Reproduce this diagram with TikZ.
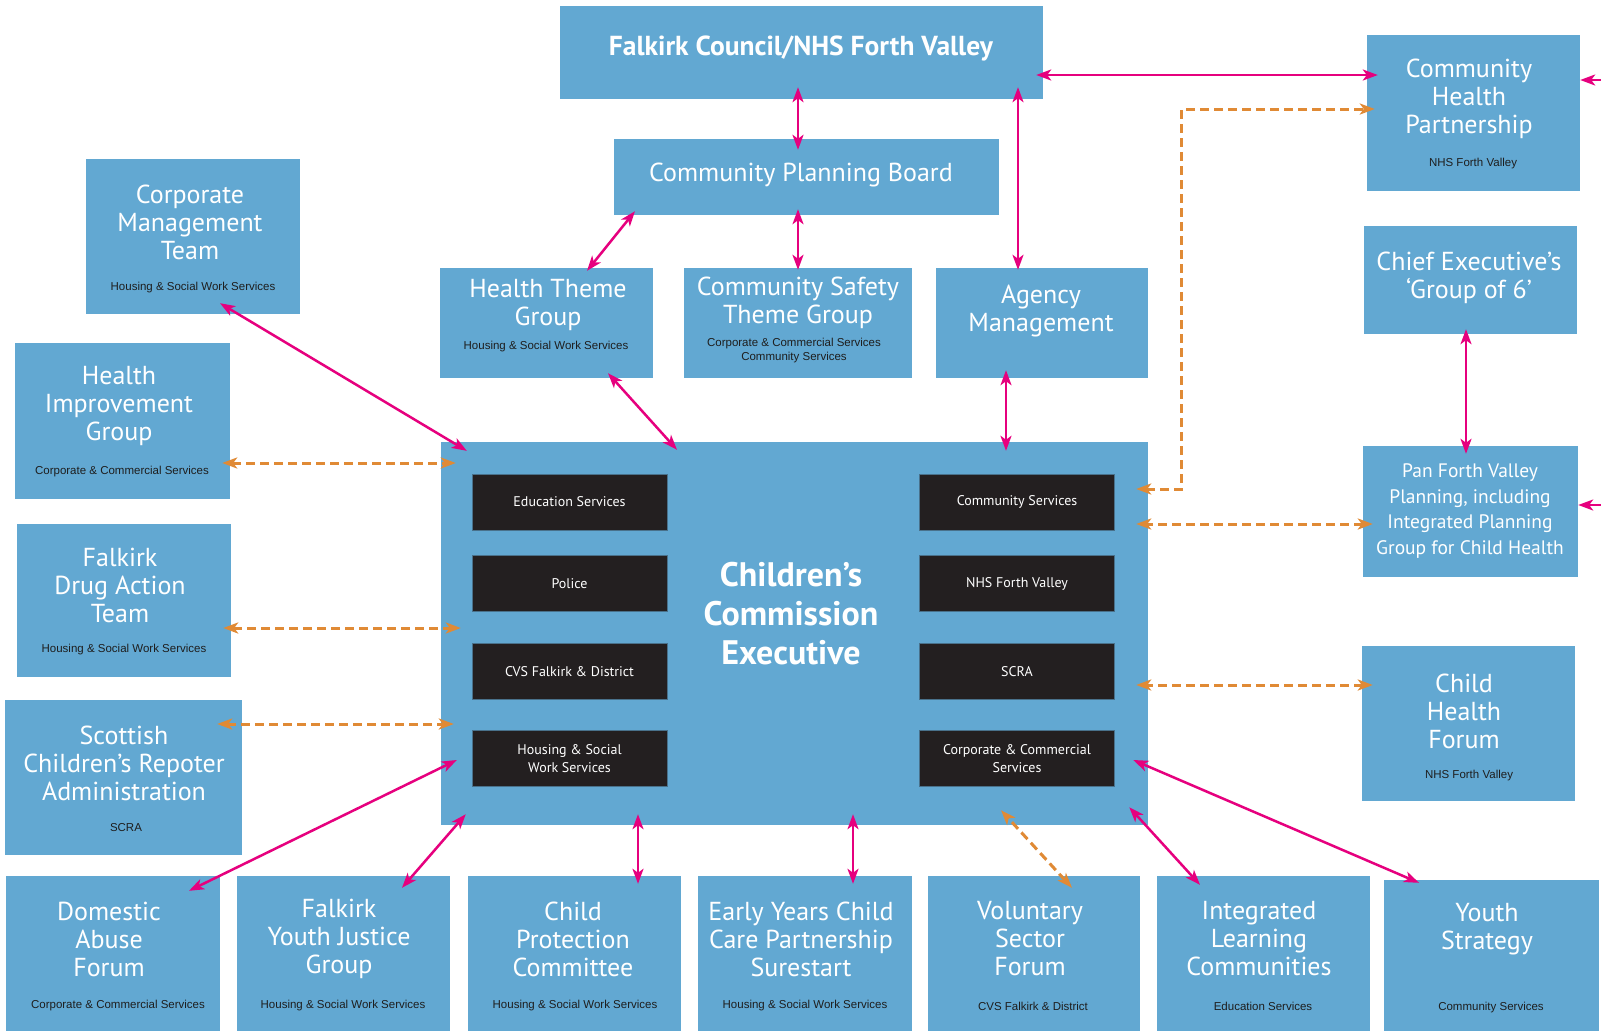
\documentclass[tikz,border=0pt]{standalone}
\usepackage{fontspec}
\setmainfont{PT Sans}
\newfontfamily\subfont{Liberation Sans}
\usetikzlibrary{arrows.meta,calc}
\definecolor{boxblue}{RGB}{98,168,210}
\definecolor{darkbox}{RGB}{35,31,32}
\definecolor{linkpink}{RGB}{230,0,126}
\definecolor{dashorange}{RGB}{224,138,53}
\definecolor{subgray}{RGB}{30,30,30}
\tikzset{
  box/.style={fill=boxblue, inner sep=0pt},
  unitbox/.style={fill=darkbox, draw=boxblue!60!darkbox, line width=0.6pt, minimum width=195pt, minimum height=56pt, inner sep=0pt, align=center, text=white, font=\fontsize{14}{18}\selectfont},
  ttl/.style={text=white, align=center, inner sep=0pt, font=\fontsize{26}{28}\selectfont},
  sub/.style={text=subgray, align=center, inner sep=0pt, font=\subfont\fontsize{11.5}{14}\selectfont},
  link/.style={draw=linkpink, line width=2.5pt, {Stealth[length=15pt,width=11pt,inset=4pt]}-{Stealth[length=15pt,width=11pt,inset=4pt]}},
  onelink/.style={draw=linkpink, line width=2.5pt, -{Stealth[length=15pt,width=11pt,inset=4pt]}},
  dashlink/.style={draw=dashorange, line width=3pt, dash pattern=on 9pt off 5pt, {Stealth[length=15pt,width=11pt,inset=4pt]}-{Stealth[length=15pt,width=11pt,inset=4pt]}}
}
\begin{document}
\begin{tikzpicture}[x=1pt,y=-1pt]
\useasboundingbox[fill=white] (0,0) rectangle (1601,1034);
\node[box, minimum width=483pt, minimum height=93pt] (fc) at (801.5,52.5) {};
\node[ttl, font=\bfseries\fontsize{27.5}{28}\selectfont] (fct) at (801,48) {Falkirk Council/NHS Forth Valley};
\node[box, minimum width=385pt, minimum height=76pt] (cpb) at (806.5,177) {};
\node[ttl] (cpbt) at (801,175) {Community Planning Board};
\node[box, minimum width=214pt, minimum height=155pt] (cmt) at (193,236.5) {};
\node[ttl] (cmtt) at (190,222) {Corporate\\Management\\Team};
\node[sub] (cmts) at (193,288) {Housing \& Social Work Services};
\node[box, minimum width=215pt, minimum height=156pt] (hig) at (122.5,421) {};
\node[ttl] (higt) at (119,406) {Health\\Improvement\\Group};
\node[sub] (higs) at (122,472) {Corporate \& Commercial Services};
\node[box, minimum width=214pt, minimum height=153pt] (fdat) at (124,600.5) {};
\node[ttl] (fdatt) at (120,585) {Falkirk\\Drug Action\\Team};
\node[sub] (fdats) at (124,650) {Housing \& Social Work Services};
\node[box, minimum width=237pt, minimum height=155pt] (scra) at (123.5,777.5) {};
\node[ttl] (scrat) at (124,763) {Scottish\\Children’s Repoter\\Administration};
\node[sub] (scras) at (126,828) {SCRA};
\node[box, minimum width=213pt, minimum height=110pt] (htg) at (546.5,323) {};
\node[ttl] (htgt) at (548,305) {Health Theme\\Group};
\node[sub] (htgs) at (546,347) {Housing \& Social Work Services};
\node[box, minimum width=228pt, minimum height=110pt] (cstg) at (798,323) {};
\node[ttl] (cstgt) at (798,303) {Community Safety\\Theme Group};
\node[sub] (cstgs) at (794,351) {Corporate \& Commercial Services\\Community Services};
\node[box, minimum width=212pt, minimum height=110pt] (am) at (1042,323) {};
\node[ttl] (amt) at (1041,311) {Agency\\Management};
\node[box, minimum width=213pt, minimum height=156pt] (chp) at (1473.5,113) {};
\node[ttl] (chpt) at (1469,99) {Community\\Health\\Partnership};
\node[sub] (chps) at (1473,164) {NHS Forth Valley};
\node[box, minimum width=213pt, minimum height=108pt] (ce) at (1470.5,280) {};
\node[ttl] (cet) at (1469,278) {Chief Executive’s\\‘Group of 6’};
\node[box, minimum width=215pt, minimum height=131pt] (pfv) at (1470.5,511.5) {};
\node[ttl, font=\fontsize{19.5}{25.5}\selectfont] (pfvt) at (1470,511) {Pan Forth Valley\\Planning, including\\Integrated Planning\\Group for Child Health};
\node[box, minimum width=213pt, minimum height=155pt] (chf) at (1468.5,723.5) {};
\node[ttl] (chft) at (1464,711) {Child\\Health\\Forum};
\node[sub] (chfs) at (1469,776) {NHS Forth Valley};
\node[box, minimum width=707pt, minimum height=383pt] (cce) at (794.5,633.5) {};
\node[ttl, font=\bfseries\fontsize{34}{39}\selectfont] (ccet) at (791,614) {Children’s\\Commission\\Executive};
\node[unitbox] (es) at (569.5,502) {Education Services};
\node[unitbox] (pol) at (569.5,583.5) {Police};
\node[unitbox] (cvs) at (569.5,671.5) {CVS Falkirk \& District};
\node[unitbox] (hsw) at (569.5,758.5) {Housing \& Social\\Work Services};
\node[unitbox] (cs) at (1017,502) {Community Services};
\node[unitbox] (nhs) at (1017,583.5) {NHS Forth Valley};
\node[unitbox] (scr) at (1017,671.5) {SCRA};
\node[unitbox] (ccs) at (1017,758.5) {Corporate \& Commercial\\Services};
\node[box, minimum width=214pt, minimum height=155pt] (dom) at (113,953.5) {};
\node[ttl] (domt) at (109,939) {Domestic\\Abuse\\Forum};
\node[sub] (doms) at (118,1006) {Corporate \& Commercial Services};
\node[box, minimum width=213pt, minimum height=155pt] (fyj) at (343.5,953.5) {};
\node[ttl] (fyjt) at (339,939) {Falkirk\\Youth Justice\\Group};
\node[sub] (fyjs) at (343,1006) {Housing \& Social Work Services};
\node[box, minimum width=213pt, minimum height=155pt] (cpc) at (574.5,953.5) {};
\node[ttl] (cpct) at (573,939) {Child\\Protection\\Committee};
\node[sub] (cpcs) at (575,1006) {Housing \& Social Work Services};
\node[box, minimum width=214pt, minimum height=155pt] (eyc) at (805,953.5) {};
\node[ttl] (eyct) at (801,939) {Early Years Child\\Care Partnership\\Surestart};
\node[sub] (eycs) at (805,1006) {Housing \& Social Work Services};
\node[box, minimum width=212pt, minimum height=155pt] (vsf) at (1034,953.5) {};
\node[ttl] (vsft) at (1030,939) {Voluntary\\Sector\\Forum};
\node[sub] (vsfs) at (1033,1006) {CVS Falkirk \& District};
\node[box, minimum width=213pt, minimum height=155pt] (ilc) at (1263.5,953.5) {};
\node[ttl] (ilct) at (1259,939) {Integrated\\Learning\\Communities};
\node[sub] (ilcs) at (1263,1006) {Education Services};
\node[box, minimum width=215pt, minimum height=151pt] (ys) at (1491.5,955.5) {};
\node[ttl] (yst) at (1487,929) {Youth\\Strategy};
\node[sub] (yss) at (1491,1008) {Community Services};
\coordinate (edgea) at (1601,80);
\coordinate (edgeb) at (1601,505);
\draw[link] ($(fc.south)+(-3.5,-12)$) -- ($(cpb.north)+(-8.5,11)$);
\draw[link] ($(fc.south)+(216.5,-12)$) -- ($(am.north)+(-24,2)$);
\draw[link] ($(fc.east)+(-7,22.5)$) -- ($(chp.west)+(11,-38)$);
\draw[onelink] (edgea) -- ($(chp.east)+(0,-33)$);
\draw[onelink] (edgeb) -- ($(pfv.east)+(0,-6.5)$);
\draw[link] ($(cpb.south)+(-171.5,-4)$) -- ($(htg.north)+(40.5,3)$);
\draw[link] ($(cpb.south)+(-8.5,-6)$) -- ($(cstg.north)+(0,2)$);
\draw[link] ($(htg.south)+(61.5,-5)$) -- ($(cce.north)+(-117.5,8)$);
\draw[link] ($(am.south)+(-36,-8)$) -- ($(cce.north)+(211.5,9)$);
\draw[link] ($(ce.south)+(-4.5,-5)$) -- ($(pfv.north)+(-4.5,8)$);
\draw[link] ($(cmt.south)+(27,-11)$) -- ($(cce.north west)+(26,9)$);
\draw[dashlink] ($(hig.east)+(-8,42)$) -- ($(cce.west)+(15,-170.5)$);
\draw[dashlink] ($(fdat.east)+(-8,27.5)$) -- ($(cce.west)+(20,-5.5)$);
\draw[dashlink] ($(scra.east)+(-25,-53.5)$) -- ($(cce.west)+(13,90.5)$);
\draw[link] ($(dom.north)+(76,15)$) -- ($(cce.west)+(16,126.5)$);
\draw[link] ($(fyj.north)+(58.5,12)$) -- ($(cce.south west)+(25,-11)$);
\draw[link] ($(cpc.north)+(63.5,8)$) -- ($(cce.south)+(-156.5,-11)$);
\draw[link] ($(eyc.north)+(48,8)$) -- ($(cce.south)+(58.5,-11)$);
\draw[dashlink] ($(vsf.north)+(38,12)$) -- ($(cce.south)+(206.5,-15)$);
\draw[link] ($(ilc.north)+(-63.5,9)$) -- ($(cce.south east)+(-19,-18)$);
\draw[link] ($(ys.north)+(-72.5,3)$) -- ($(cce.east)+(-15,126.5)$);
\draw[dashlink] ($(chf.west)+(11,-38.5)$) -- ($(cce.east)+(-12,51.5)$);
\draw[dashlink] ($(pfv.west)+(10,12.5)$) -- ($(cce.east)+(-12,-109.5)$);
\draw[dashlink] ($(cce.east)+(-12,-144.5)$) -| ($(chp.west)+(-185,-4)$) -- ($(chp.west)+(8,-4)$);
\end{tikzpicture}
\end{document}
